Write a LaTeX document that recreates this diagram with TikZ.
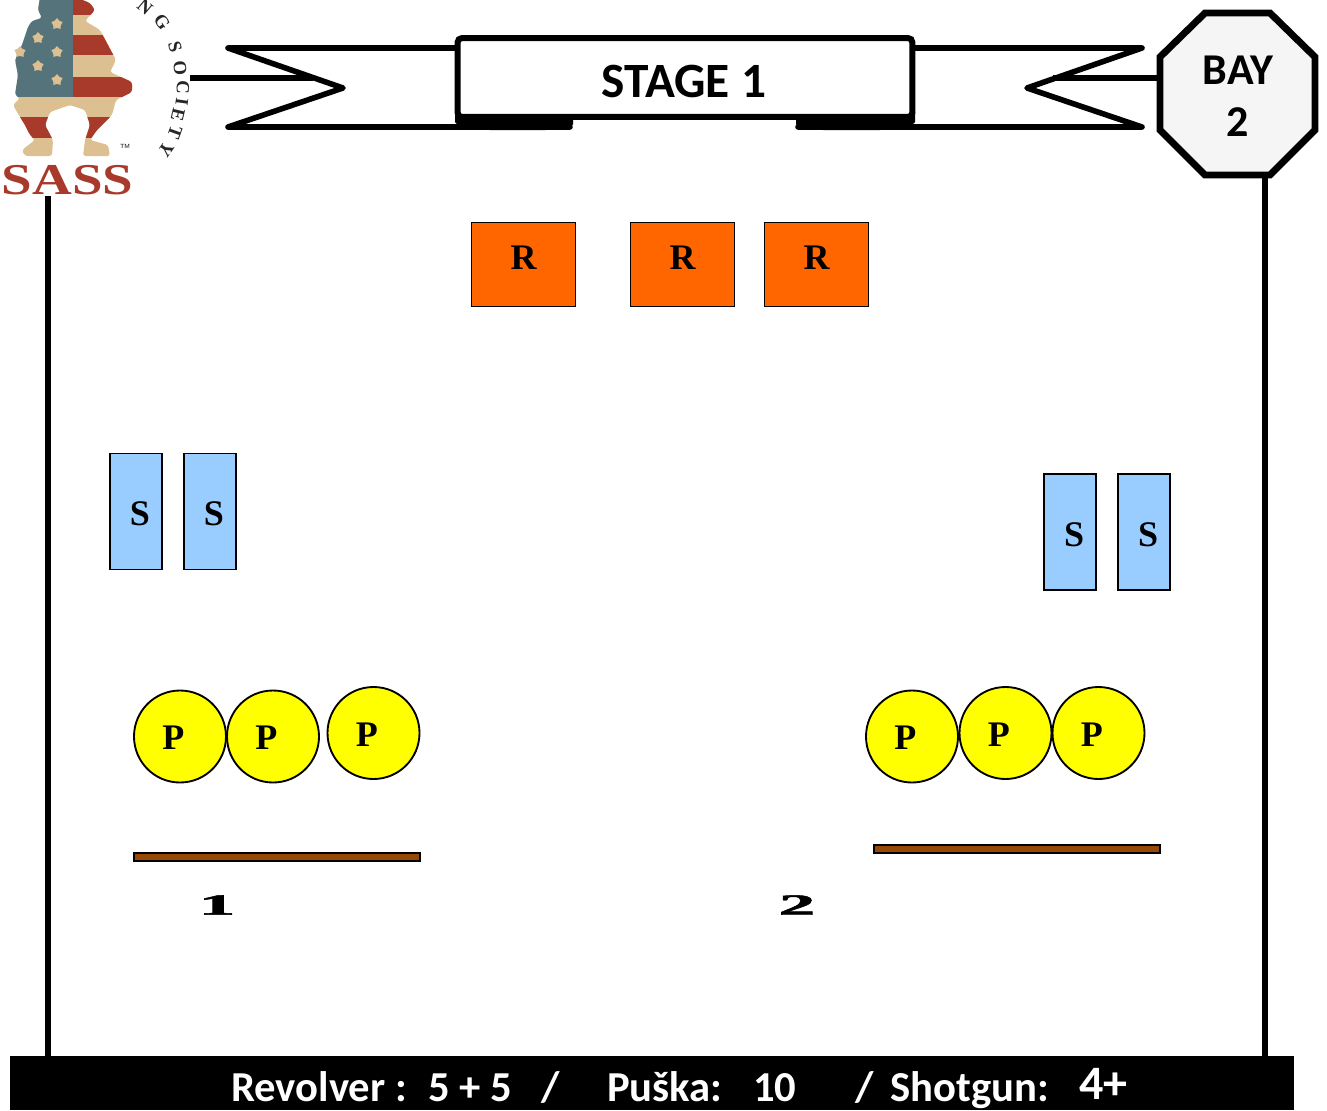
\documentclass[tikz,border=0pt]{standalone}
\usepackage{fontspec}
\setmainfont{Liberation Serif}
\newfontfamily\stagefont{Carlito}
\newfontfamily\numberfont[FakeBold=1.5]{Liberation Serif Bold}
\usetikzlibrary{shapes.geometric}
\definecolor{targetorange}{HTML}{FF6600}
\definecolor{targetblue}{HTML}{99CCFF}
\definecolor{targetyellow}{HTML}{FFFF00}
\definecolor{targetbrown}{HTML}{984806}
\definecolor{flagblue}{HTML}{55737A}
\definecolor{flagtan}{HTML}{DCC092}
\definecolor{flagred}{HTML}{A83A2C}

\begin{document}
\begin{tikzpicture}[x=0.75pt,y=-0.75pt,
				rifle/.style={
				% The shape:
				rectangle,
				% The size:
				minimum width=78pt, minimum height=63pt,
				% The border:
				draw=black, line width=1.4pt,
				% The filling:
				fill=targetorange,
				% Font
				font=\fontsize{27}{27}\selectfont\bfseries,
				text height=18pt, text depth=11pt
				},
				shotgun/.style={
				% The shape:
				rectangle,
				% The size:
				minimum width=38.5pt, minimum height=87pt,
				% The border:
				draw=black, line width=1.4pt,
				% The filling:
				fill=targetblue,
				% Font
				font=\fontsize{27}{27}\selectfont\bfseries,
				text height=21pt, text depth=0pt
				},
				pistol/.style={
				% The shape:
				circle,
				% The size:
				minimum size=69pt, inner sep=0pt,
				% The border:
				draw=black, line width=1.4pt,
				% The filling:
				fill=targetyellow,
				% Font
				font=\fontsize{27}{27}\selectfont\bfseries,
				text height=19.5pt, text depth=0pt
				},
				table/.style={
				rectangle, minimum width=215pt, minimum height=6pt, inner sep=0pt,
				draw=black, line width=1.4pt, fill=targetbrown
				},
				position/.style={
				xscale=2.5, transform shape,
				font=\numberfont\fontsize{22}{22}\selectfont
				},
				ribbon/.style={line width=4.2pt, line cap=round, line join=round},
				bayline/.style={line width=5.2pt, line join=miter},
				footer/.style={
				anchor=base west, inner sep=0pt, text=white,
				font=\stagefont\fontsize{32}{32}\selectfont\bfseries
				},
				society/.style={
				inner sep=0pt, text=black!85,
				font=\fontsize{14}{14}\selectfont\bfseries
				},
				]
    \useasboundingbox (0,0) rectangle (1327,1110);

    % side lines
    \coordinate (left top) at (48,196);
    \coordinate (left bottom) at (48,1058);
    \coordinate (right top) at (1265,175);
    \coordinate (right bottom) at (1265,1058);
    \draw [line width=3.8pt] (left top) -- (left bottom);
    \draw [line width=3.8pt] (right top) -- (right bottom);

    % logo
    \begin{scope}
    \clip [rounded corners=2pt] (40,-3) -- (38,10) -- (42,18) -- (32,21) -- (28,27) -- (22,45) -- (15,60) -- (18,75) -- (15,95)
        -- (20,98) -- (13,105) -- (20,117) -- (25,125) -- (30,135) -- (35,140) -- (22,150) -- (25,156)
        -- (52,156) -- (53,140) -- (45,125) -- (50,112) -- (70,105) -- (85,110) -- (90,125) -- (85,140)
        -- (83,156) -- (110,156) -- (108,145) -- (90,140) -- (97,130) -- (112,115) -- (116,100) -- (132,92)
        -- (132,82) -- (110,72) -- (116,60) -- (100,30) -- (85,21) -- (95,10) -- (90,3) -- (75,-3) -- cycle;
    \fill [flagtan] (0,-3) rectangle (140,160);
    \fill [flagred] (73,-3) rectangle (140,15);
    \fill [flagred] (73,35) rectangle (140,55);
    \fill [flagred] (73,77) rectangle (140,97);
    \fill [flagred] (0,117) rectangle (140,138);
    \fill [flagblue] (0,-3) rectangle (73,97);
    \end{scope}
    \foreach \i/\x/\y in {1/57/24,2/38/38,3/57/52,4/20/52,5/38/66,6/57/80}
        \node [star, star points=5, fill=flagtan, minimum size=9pt, inner sep=0pt] (star\i) at (\x,\y) {};
    \node [inner sep=0pt, font=\fontsize{4.5}{4.5}\selectfont\sffamily] (trademark) at (125,146) {TM};
    \node [inner sep=0pt, text=flagred, xscale=1.25, transform shape, font=\fontsize{33}{33}\selectfont\bfseries] (sass) at (67.5,180) {SASS};
    \foreach \i/\l/\x/\y/\a in {1/N/145/7/-40,2/G/162/22/-55,3/S/175/47/-75,4/O/180/68/-85,5/C/183/87/-92,
                                6/I/182/102/-98,7/E/178/115/-103,8/T/175/132/-110,9/Y/166/150/-125}
        \node [society, rotate=\a] (society\i) at (\x,\y) {\l};

    % ribbon
    \coordinate (tail a) at (228,48);
    \coordinate (tail b) at (343,88);
    \coordinate (tail c) at (228,127);
    \coordinate (tail d) at (1142,48);
    \coordinate (tail e) at (1027,88);
    \coordinate (tail f) at (1142,127);
    \coordinate (logo end) at (190,78);
    \coordinate (fold a) at (313,78);
    \coordinate (fold b) at (1053,78);
    \coordinate (top a) at (500,48);
    \coordinate (top b) at (870,48);
    \coordinate (under a) at (570,127);
    \coordinate (under b) at (798,127);
    \draw [ribbon] (top a) -- (tail a) -- (tail b) -- (tail c) -- (under a);
    \draw [ribbon] (top b) -- (tail d) -- (tail e) -- (tail f) -- (under b);
    \draw [line width=3.8pt] (logo end) -- (fold a);
    \draw [line width=3.8pt] (fold b) -- (1160,78);
    \fill (455,112) -- (573,112) -- (573,124) .. controls (573,129) and (565,130) .. (545,130)
        -- (490,130) .. controls (470,130) and (458,127) .. (455,122) -- cycle;
    \fill (915,112) -- (796,112) -- (796,124) .. controls (796,129) and (804,130) .. (824,130)
        -- (880,130) .. controls (900,130) and (912,127) .. (915,122) -- cycle;
    \node [draw=black, fill=white, line width=4.5pt, rounded corners=3pt, minimum width=341pt, minimum height=59pt,
           inner sep=0pt] (stage) at (685,77.5) {};
    \node [inner sep=0pt, font=\stagefont\fontsize{37}{37}\selectfont\bfseries] (stage title) at (684,81) {STAGE 1};

    % bay sign
    \draw [bayline, fill=black!4] (1205,13) -- (1270,13) -- (1315,57) -- (1315,130) -- (1270,175)
        -- (1205,175) -- (1160,130) -- (1160,57) -- cycle;
    \node [inner sep=0pt, font=\stagefont\fontsize{33}{33}\selectfont\bfseries] (bay) at (1238,70) {BAY};
    \node [inner sep=0pt, font=\stagefont\fontsize{33}{33}\selectfont\bfseries] (bay number) at (1238,122) {2};

    % rifle targets
    \node [rifle] (r1) at (523.5,264.5) {R};
    \node [rifle] (r2) at (682.5,264.5) {R};
    \node [rifle] (r3) at (816.5,264.5) {R};

    % shotgun targets
    \node [shotgun] (s1) at (136,511.5) {\hspace*{6pt}S};
    \node [shotgun] (s2) at (210,511.5) {\hspace*{6pt}S};
    \node [shotgun] (s3) at (1070,532) {\hspace*{6pt}S};
    \node [shotgun] (s4) at (1144,532) {\hspace*{6pt}S};

    % pistol targets
    \node [pistol] (p1) at (180,736.5) {P\hspace*{10pt}};
    \node [pistol] (p2) at (273,736.5) {P\hspace*{10pt}};
    \node [pistol] (p3) at (373.5,733) {P\hspace*{10pt}};
    \node [pistol] (p4) at (912,736.5) {P\hspace*{10pt}};
    \node [pistol] (p5) at (1005.5,733) {P\hspace*{10pt}};
    \node [pistol] (p6) at (1098.5,733) {P\hspace*{10pt}};

    % tables
    \node [table] (table1) at (277,857) {};
    \node [table] (table2) at (1017,849) {};
    \node [position] (pos1) at (217,905) {1};
    \node [position] (pos2) at (797,905) {2};

    % footer
    \node [fill=black, minimum width=963pt, minimum height=40.5pt, inner sep=0pt] (bar) at (652,1083) {};
    \node [footer] (revolver) at (231,1101) {Revolver :};
    \node [footer] (revolver count) at (428,1101) {5 + 5};
    \node [footer] (slash a) at (541,1101) {/};
    \node [footer] (rifle) at (607,1101) {Puška:};
    \node [footer] (rifle count) at (753,1101) {10};
    \node [footer] (slash b) at (855,1101) {/};
    \node [footer] (shotgun) at (890,1101) {Shotgun:};
    \node [footer, font=\stagefont\fontsize{36}{36}\selectfont\bfseries] (shotgun count) at (1079,1099.5) {4+};
\end{tikzpicture}
\end{document}
